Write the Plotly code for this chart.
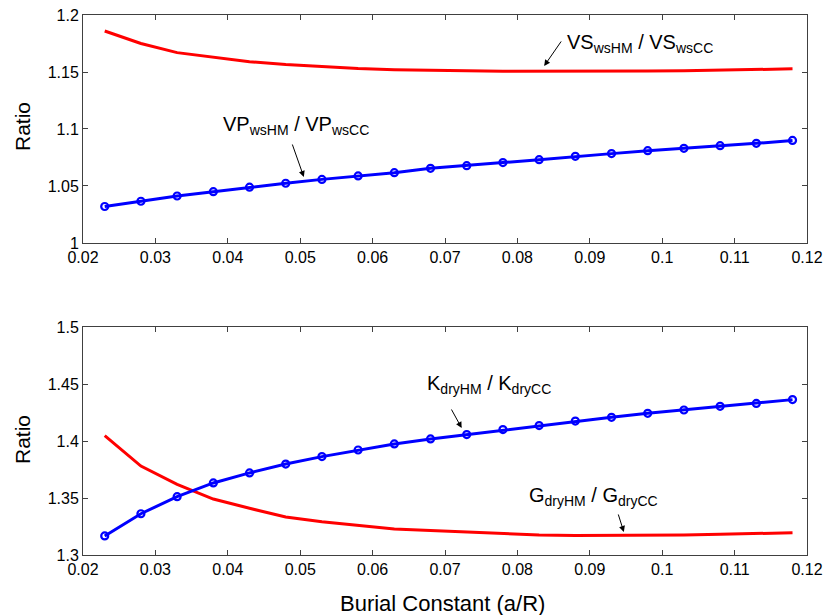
import plotly.graph_objects as go
from plotly.subplots import make_subplots

# Burial constant a/R
burial = [0.023, 0.028, 0.033, 0.038, 0.043, 0.048, 0.053, 0.058, 0.063, 0.068,
          0.073, 0.078, 0.083, 0.088, 0.093, 0.098, 0.103, 0.108, 0.113, 0.118]

# Velocity ratios (water-saturated, Hertz-Mindlin vs contact cement)
vp_ratio = [1.032, 1.0366, 1.0412, 1.045, 1.049, 1.0524, 1.0558, 1.0588, 1.0617, 1.0655,
            1.0678, 1.0705, 1.0731, 1.076, 1.0784, 1.081, 1.083, 1.0854, 1.0874, 1.090]
vs_ratio = [1.186, 1.175, 1.167, 1.163, 1.159, 1.1565, 1.1545, 1.153, 1.152, 1.1513,
            1.151, 1.1506, 1.1505, 1.1505, 1.1506, 1.1508, 1.151, 1.1515, 1.152, 1.1528]

# Dry-frame moduli ratios
k_ratio = [1.3167, 1.3362, 1.3512, 1.3632, 1.372, 1.3798, 1.3863, 1.3921, 1.3974, 1.4018,
           1.4056, 1.410, 1.4135, 1.4175, 1.4208, 1.4243, 1.4272, 1.4304, 1.433, 1.4363]
g_ratio = [1.4047, 1.378, 1.362, 1.3491, 1.341, 1.3333, 1.3292, 1.3257, 1.3228, 1.3214,
           1.3199, 1.3187, 1.3175, 1.317, 1.317, 1.317, 1.3175, 1.3181, 1.319, 1.3196]

x_ticks = [0.02, 0.03, 0.04, 0.05, 0.06, 0.07, 0.08, 0.09, 0.1, 0.11, 0.12]
x_labels = ["0.02", "0.03", "0.04", "0.05", "0.06", "0.07", "0.08", "0.09", "0.1", "0.11", "0.12"]
y_top_ticks = [1, 1.05, 1.1, 1.15, 1.2]
y_top_labels = ["1", "1.05", "1.1", "1.15", "1.2"]
y_bot_ticks = [1.3, 1.35, 1.4, 1.45, 1.5]
y_bot_labels = ["1.3", "1.35", "1.4", "1.45", "1.5"]

FONT = "Liberation Sans, Arial, sans-serif"
BLUE = "#0000ff"
RED = "#ff0000"
AXIS = "#404040"

fig = make_subplots(rows=2, cols=1, vertical_spacing=0.1556)

marker_style = dict(symbol="circle-open", size=7, color=BLUE, line=dict(width=2.2, color=BLUE))

fig.add_trace(go.Scatter(x=burial, y=vs_ratio, mode="lines",
                         line=dict(color=RED, width=3)), row=1, col=1)
fig.add_trace(go.Scatter(x=burial, y=vp_ratio, mode="lines+markers",
                         line=dict(color=BLUE, width=3), marker=marker_style), row=1, col=1)
fig.add_trace(go.Scatter(x=burial, y=g_ratio, mode="lines",
                         line=dict(color=RED, width=3)), row=2, col=1)
fig.add_trace(go.Scatter(x=burial, y=k_ratio, mode="lines+markers",
                         line=dict(color=BLUE, width=3), marker=marker_style), row=2, col=1)

axis_common = dict(showline=True, linecolor=AXIS, linewidth=1, mirror="ticks",
                   ticks="inside", ticklen=5, tickcolor=AXIS, showgrid=False,
                   zeroline=False, automargin=False,
                   tickfont=dict(family=FONT, size=16, color="black"))

fig.update_xaxes(range=[0.02, 0.12], tickvals=x_ticks, ticktext=x_labels, **axis_common)
fig.update_yaxes(range=[1, 1.2], tickvals=y_top_ticks, ticktext=y_top_labels,
                 row=1, col=1, **axis_common)
fig.update_yaxes(range=[1.3, 1.5], tickvals=y_bot_ticks, ticktext=y_bot_labels,
                 row=2, col=1, **axis_common)

# Axis titles
title_font = dict(family=FONT, size=22, color="black")
fig.add_annotation(x=0.4959, y=-0.0889, xref="paper", yref="paper", text="Burial Constant (a/R)",
                   showarrow=False, xanchor="center", yanchor="middle", font=title_font)
for ypos in (0.7944, 0.2148):
    fig.add_annotation(x=-0.0843, y=ypos, xref="paper", yref="paper", text="Ratio",
                       showarrow=False, xanchor="center", yanchor="middle", textangle=-90,
                       font=dict(family=FONT, size=21, color="black"))

# Curve labels with leader arrows
labels = [
    # text, text x, text y, arrow-tip x, arrow-tip y, tail dx, tail dy, axes
    ("VP<sub>wsHM</sub> / VP<sub>wsCC</sub>", 0.0390, 1.1035, 0.0505, 1.0579, -12, -34, ("x", "y")),
    ("VS<sub>wsHM</sub> / VS<sub>wsCC</sub>", 0.0866, 1.1754, 0.0837, 1.1553, 18, -26, ("x", "y")),
    ("K<sub>dryHM</sub> / K<sub>dryCC</sub>", 0.0673, 1.450, 0.0723, 1.4114, -11, -20, ("x2", "y2")),
    ("G<sub>dryHM</sub> / G<sub>dryCC</sub>", 0.0813, 1.3509, 0.0947, 1.3202, -6, -19, ("x2", "y2")),
]
for text, tx, ty, hx, hy, dx, dy, (xr, yr) in labels:
    fig.add_annotation(x=tx, y=ty, xref=xr, yref=yr, text=text, showarrow=False,
                       xanchor="left", yanchor="middle",
                       font=dict(family=FONT, size=20, color="black"))
    fig.add_annotation(x=hx, y=hy, xref=xr, yref=yr, text="", showarrow=True,
                       ax=dx, ay=dy, arrowhead=2, arrowsize=1.2, arrowwidth=1,
                       arrowcolor="black", standoff=0)

fig.update_layout(width=825, height=615, showlegend=False,
                  paper_bgcolor="white", plot_bgcolor="white",
                  margin=dict(l=83, r=18, t=15, b=60),
                  font=dict(family=FONT, color="black"))

fig.write_html("out.html")
